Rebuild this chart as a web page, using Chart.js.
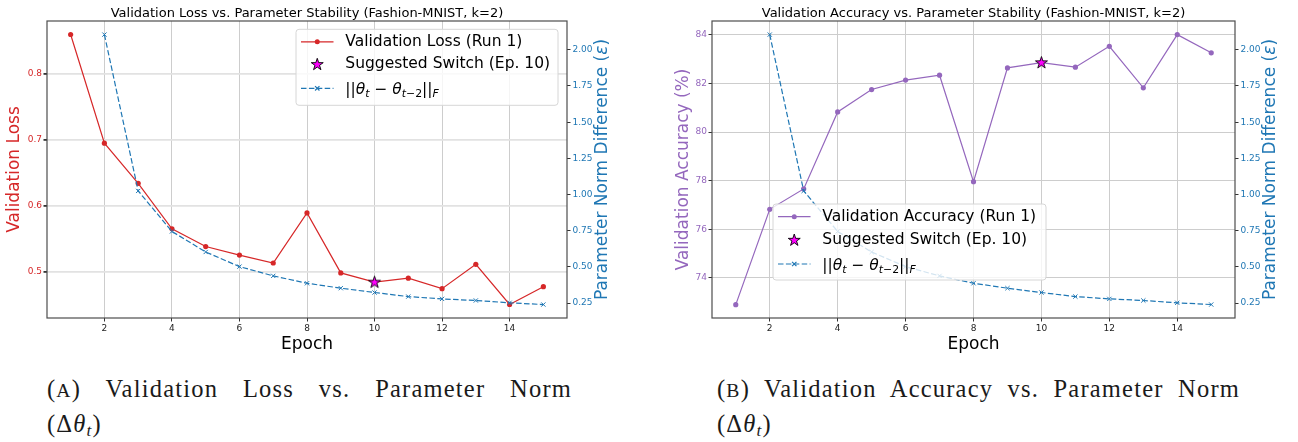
<!DOCTYPE html>
<html>
<head>
<meta charset="utf-8">
<script src="https://cdn.jsdelivr.net/npm/chart.js@4.4.1/dist/chart.umd.min.js"></script>
<style>
  html, body { margin: 0; padding: 0; background: #fff; }
  body { width: 1298px; height: 442px; position: relative; overflow: hidden; }
  canvas { position: absolute; top: 0; }
  #chartA { left: 0; }
  #chartB { left: 650px; }
  .caption { position: absolute; font-family: "Liberation Serif", "DejaVu Serif", serif; font-size: 24.5px; letter-spacing: 1.2px; line-height: 33px; color: #1a1a1a; }
  .caption .line1 { text-align: justify; text-align-last: justify; }
  .caption .sc { font-size: 0.8em; }
  .caption sub { font-size: 0.7em; vertical-align: -0.25em; line-height: 0; }
  #capA { left: 47px; top: 372px; width: 525px; }
  #capB { left: 717px; top: 372px; width: 523px; }
</style>
</head>
<body>
<canvas id="chartA" width="640" height="360"></canvas>
<canvas id="chartB" width="648" height="360"></canvas>
<div class="caption" id="capA">
  <div class="line1">(<span class="sc">A</span>) Validation Loss vs. Parameter Norm</div>
  <div>(Δ<i>θ</i><sub><i>t</i></sub>)</div>
</div>
<div class="caption" id="capB">
  <div class="line1">(<span class="sc">B</span>) Validation Accuracy vs. Parameter Norm</div>
  <div>(Δ<i>θ</i><sub><i>t</i></sub>)</div>
</div>
<script>
// values
const epochs = [1, 2, 3, 4, 5, 6, 7, 8, 9, 10, 11, 12, 13, 14, 15];
const valLoss = [0.860, 0.695, 0.634, 0.565, 0.538, 0.525, 0.513, 0.589, 0.498, 0.484, 0.490, 0.474, 0.511, 0.450, 0.477];
const valAcc = [72.90, 76.82, 77.66, 80.83, 81.75, 82.14, 82.34, 77.96, 82.64, 82.86, 82.67, 83.53, 81.82, 84.01, 83.26];
const normEpochs = [2, 3, 4, 5, 6, 7, 8, 9, 10, 11, 12, 13, 14, 15];
const normDiff = [2.105, 1.025, 0.745, 0.603, 0.502, 0.438, 0.387, 0.353, 0.323, 0.295, 0.279, 0.268, 0.252, 0.240];
const switchEpoch = 10;

const epochTicks = [2, 4, 6, 8, 10, 12, 14];
const lossTicks = [0.5, 0.6, 0.7, 0.8];
const accTicks = [74, 76, 78, 80, 82, 84];
const normTicks = [0.25, 0.5, 0.75, 1.0, 1.25, 1.5, 1.75, 2.0];

const FONT = '"DejaVu Sans", sans-serif';
const RED = '#d62728', BLUE = '#1f77b4', PURPLE = '#9467bd', MAGENTA = '#ff00ff';

Chart.defaults.font.family = FONT;

function starPath(g, cx, cy, r) {
  const ri = r * 0.382;
  g.beginPath();
  for (let k = 0; k < 10; k++) {
    const rr = k % 2 ? ri : r;
    const a = -Math.PI / 2 + k * Math.PI / 5;
    g.lineTo(cx + rr * Math.cos(a), cy + rr * Math.sin(a));
  }
  g.closePath();
}

function drawStar(g, cx, cy, r) {
  starPath(g, cx, cy, r);
  g.fillStyle = MAGENTA;
  g.fill();
  g.lineWidth = 0.9;
  g.strokeStyle = '#000';
  g.stroke();
}

function makeStarImage(r) {
  const c = document.createElement('canvas');
  const size = Math.ceil(r * 2 + 4);
  c.width = size;
  c.height = size;
  drawStar(c.getContext('2d'), size / 2, size / 2 + r * 0.05, r);
  return c;
}
const starImg = makeStarImage(6.3);

const pts = (xs, ys) => xs.map((x, i) => ({ x, y: ys[i] }));
const fixTicks = (list) => (s) => { s.ticks = list.map((v) => ({ value: v })); };

// ||θ_t − θ_{t−2}||_F
const normLabel = [
  { t: '||' }, { t: 'θ', it: true }, { t: 't', it: true, sub: true },
  { t: ' − ' }, { t: 'θ', it: true }, { t: 't', it: true, sub: true }, { t: '−2', sub: true },
  { t: '||' }, { t: 'F', it: true, sub: true }
];

function richWidth(ctx, parts, size) {
  let w = 0;
  parts.forEach((p) => {
    ctx.font = `${p.it ? 'italic ' : ''}${p.sub ? size * 0.7 : size}px ${FONT}`;
    w += ctx.measureText(p.t).width;
  });
  return w;
}

function drawRich(ctx, x, y, parts, size) {
  ctx.textAlign = 'left';
  ctx.textBaseline = 'alphabetic';
  parts.forEach((p) => {
    ctx.font = `${p.it ? 'italic ' : ''}${p.sub ? size * 0.7 : size}px ${FONT}`;
    ctx.fillText(p.t, x, y + (p.sub ? size * 0.22 : 0));
    x += ctx.measureText(p.t).width;
  });
}

function drawLegend(ctx, box, entries) {
  ctx.save();
  ctx.beginPath();
  ctx.roundRect(box.x, box.y, box.w, box.h, 3);
  ctx.fillStyle = 'rgba(255,255,255,0.8)';
  ctx.fill();
  ctx.strokeStyle = '#d6d6d6';
  ctx.lineWidth = 1;
  ctx.stroke();
  const fs = 15.5;
  const x0 = box.x + 5, x1 = box.x + 37.5, xm = (x0 + x1) / 2;
  entries.forEach((e, i) => {
    const y = box.y + box.rows[i];
    if (e.kind === 'star') {
      drawStar(ctx, xm, y + 0.3, 6.3);
    } else {
      ctx.strokeStyle = e.color;
      ctx.lineWidth = 1.2;
      ctx.setLineDash(e.dash || []);
      ctx.beginPath();
      ctx.moveTo(x0, y);
      ctx.lineTo(x1, y);
      ctx.stroke();
      ctx.setLineDash([]);
      if (e.marker === 'circle') {
        ctx.fillStyle = e.color;
        ctx.beginPath();
        ctx.arc(xm, y, 2.5, 0, Math.PI * 2);
        ctx.fill();
      } else {
        ctx.beginPath();
        ctx.moveTo(xm - 2.2, y - 2.2); ctx.lineTo(xm + 2.2, y + 2.2);
        ctx.moveTo(xm - 2.2, y + 2.2); ctx.lineTo(xm + 2.2, y - 2.2);
        ctx.stroke();
      }
    }
    ctx.fillStyle = '#000';
    if (Array.isArray(e.label)) {
      drawRich(ctx, box.x + 49.3, y + fs * 0.36, e.label, fs);
    } else {
      ctx.font = `${fs}px ${FONT}`;
      ctx.textAlign = 'left';
      ctx.textBaseline = 'middle';
      ctx.fillText(e.label, box.x + 49.3, y);
    }
  });
  ctx.restore();
}

function makeDecor(cfg) {
  return {
    id: 'decor',
    afterDatasetsDraw(chart) {
      const { ctx, chartArea: a } = chart;
      ctx.save();
      ctx.strokeStyle = '#4d4d4d';
      ctx.lineWidth = 1.2;
      ctx.strokeRect(a.left, a.top, a.right - a.left, a.bottom - a.top);

      ctx.fillStyle = '#000';
      ctx.font = `13px ${FONT}`;
      ctx.textAlign = 'center';
      ctx.textBaseline = 'alphabetic';
      ctx.fillText(cfg.title, (a.left + a.right) / 2, a.top - 4.3);

      // right axis label, reads bottom to top like matplotlib
      const rl = [{ t: 'Parameter Norm Difference (' }, { t: 'ε', it: true }, { t: ')' }];
      const size = 17;
      ctx.translate(a.right + 33.5, (a.top + a.bottom) / 2);
      ctx.rotate(-Math.PI / 2);
      ctx.fillStyle = BLUE;
      drawRich(ctx, -richWidth(ctx, rl, size) / 2, size * 0.36, rl, size);
      ctx.restore();

      const box = cfg.legend(a);
      drawLegend(ctx, box, cfg.entries);
    }
  };
}

function buildChart(id, opts) {
  const tickFont = { size: 9 };
  return new Chart(document.getElementById(id), {
    type: 'line',
    data: {
      datasets: [
        {
          data: pts(epochs, opts.values),
          borderColor: opts.color, backgroundColor: opts.color,
          borderWidth: 1.2, pointRadius: 2.6, pointBorderWidth: 0,
          yAxisID: 'y', order: 3
        },
        {
          data: [{ x: switchEpoch, y: opts.values[epochs.indexOf(switchEpoch)] }],
          showLine: false, pointStyle: starImg, pointRadius: 6,
          yAxisID: 'y', order: 2
        },
        {
          data: pts(normEpochs, normDiff),
          borderColor: BLUE, backgroundColor: BLUE, borderWidth: 1.2, borderDash: [5.5, 2.4],
          pointStyle: 'crossRot', pointRadius: 3, pointBorderWidth: 1, pointBorderColor: BLUE,
          yAxisID: 'y2', order: 1
        }
      ]
    },
    options: {
      responsive: false,
      animation: false,
      devicePixelRatio: 1,
      layout: { padding: { top: 21, left: 0, right: 0, bottom: 0 } },
      plugins: { legend: { display: false }, tooltip: { enabled: false }, title: { display: false } },
      scales: {
        x: {
          type: 'linear', min: 0.3, max: 15.7,
          afterBuildTicks: fixTicks(epochTicks),
          afterFit: (s) => { s.height = 42; },
          grid: { color: '#cdcdcd', lineWidth: 1, tickColor: '#333', tickLength: 3.5 },
          border: { display: false },
          ticks: { font: tickFont, color: '#222', padding: 2, maxRotation: 0, autoSkip: false },
          title: { display: true, text: 'Epoch', color: '#000', font: { size: 17 }, padding: { top: 0, bottom: 4.8 } }
        },
        y: {
          position: 'left', min: opts.min, max: opts.max,
          afterBuildTicks: fixTicks(opts.ticks),
          afterFit: (s) => { s.width = opts.leftWidth; },
          grid: { color: opts.gridColor, lineWidth: opts.gridWidth, tickColor: '#333', tickLength: 3.5 },
          border: { display: false },
          ticks: { font: tickFont, color: opts.color, padding: 1.5, autoSkip: false },
          title: { display: true, text: opts.label, color: opts.color, font: { size: 17 }, padding: { top: opts.labelPad, bottom: 0 } }
        },
        y2: {
          position: 'right', min: 0.147, max: 2.199,
          afterBuildTicks: fixTicks(normTicks),
          afterFit: (s) => { s.width = opts.rightWidth; },
          grid: { drawOnChartArea: false, tickColor: '#333', tickLength: 3.5 },
          border: { display: false },
          ticks: { font: tickFont, color: BLUE, padding: 2, autoSkip: false, callback: (v) => v.toFixed(2) }
        }
      }
    },
    plugins: [makeDecor(opts.decor)]
  });
}

buildChart('chartA', {
  values: valLoss, color: RED, min: 0.4295, max: 0.8805, ticks: lossTicks,
  label: 'Validation Loss', labelPad: 4.8, leftWidth: 47, rightWidth: 73,
  gridColor: '#e2e2e2', gridWidth: 1.8,
  decor: {
    title: 'Validation Loss vs. Parameter Stability (Fashion-MNIST, k=2)',
    legend: (a) => ({ x: a.right - 9 - 262, y: a.top + 8.3, w: 262, h: 76, rows: [12.5, 35, 59] }),
    entries: [
      { kind: 'line', color: RED, marker: 'circle', label: 'Validation Loss (Run 1)' },
      { kind: 'star', label: 'Suggested Switch (Ep. 10)' },
      { kind: 'line', color: BLUE, marker: 'x', dash: [5.5, 2.4], label: normLabel }
    ]
  }
});

buildChart('chartB', {
  values: valAcc, color: PURPLE, min: 72.35, max: 84.57, ticks: accTicks,
  label: 'Validation Accuracy (%)', labelPad: 23.8, leftWidth: 62, rightWidth: 63,
  gridColor: '#cdcdcd', gridWidth: 1,
  decor: {
    title: 'Validation Accuracy vs. Parameter Stability (Fashion-MNIST, k=2)',
    legend: (a) => ({ x: a.left + 61, y: a.top + 183, w: 273, h: 76, rows: [12.7, 36, 60] }),
    entries: [
      { kind: 'line', color: PURPLE, marker: 'circle', label: 'Validation Accuracy (Run 1)' },
      { kind: 'star', label: 'Suggested Switch (Ep. 10)' },
      { kind: 'line', color: BLUE, marker: 'x', dash: [5.5, 2.4], label: normLabel }
    ]
  }
});
</script>
</body>
</html>
